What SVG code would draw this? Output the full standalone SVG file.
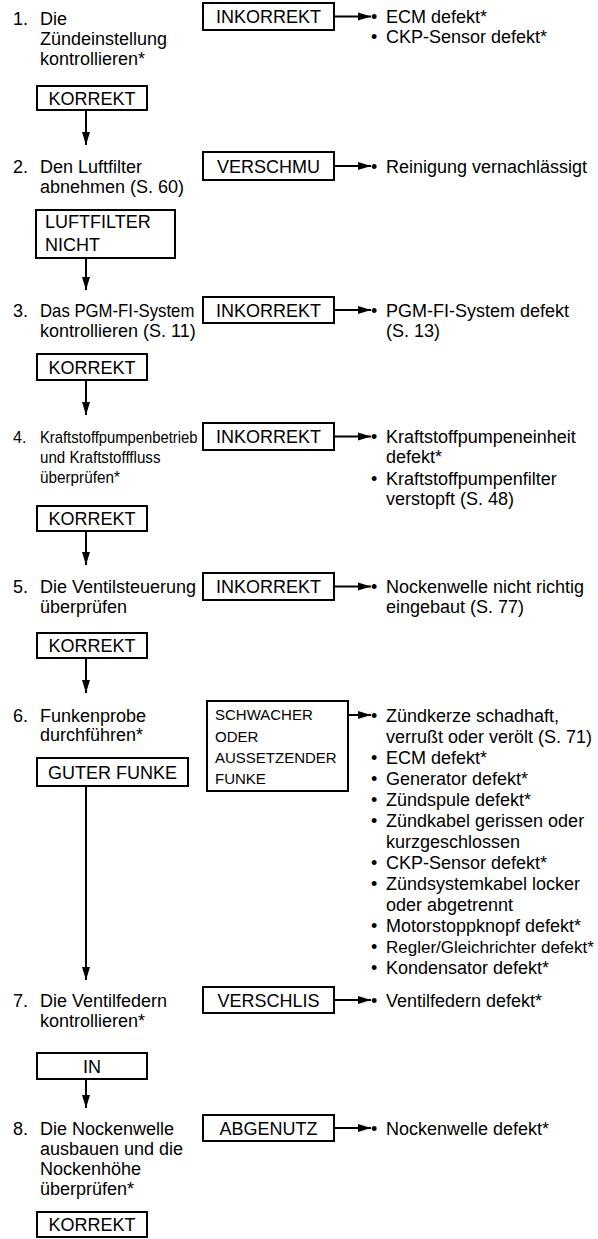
<svg xmlns="http://www.w3.org/2000/svg" width="598" height="1239" viewBox="0 0 598 1239">
<style>
.t{font-family:"Liberation Sans",Arial,Helvetica,sans-serif;font-size:18px;fill:#000}
.s{font-size:15px}
.k{font-size:17px}
.c{text-anchor:middle}
.box{fill:#fff;stroke:#000;stroke-width:2}
.ln{stroke:#000;stroke-width:2;fill:none;marker-end:url(#ah)}
</style>
<defs>
<marker id="ah" markerUnits="userSpaceOnUse" markerWidth="14" markerHeight="9" refX="13" refY="4.5" orient="auto" viewBox="0 0 14 9"><path d="M0,0.5 L13,4.5 L0,8.5 z" fill="#000"/></marker>
</defs>
<rect width="598" height="1239" fill="#fff"/>

<g id="connectors">
<line class="ln" x1="86" y1="110" x2="86" y2="145"/>
<line class="ln" x1="86" y1="258" x2="86" y2="290"/>
<line class="ln" x1="86" y1="380" x2="86" y2="415"/>
<line class="ln" x1="86" y1="531" x2="86" y2="565"/>
<line class="ln" x1="86" y1="658" x2="86" y2="693"/>
<line class="ln" x1="86" y1="786" x2="86" y2="980"/>
<line class="ln" x1="86" y1="1079" x2="86" y2="1108"/>
<line class="ln" x1="334" y1="16.5" x2="371" y2="16.5"/>
<line class="ln" x1="334" y1="166" x2="371" y2="166"/>
<line class="ln" x1="334" y1="310" x2="371" y2="310"/>
<line class="ln" x1="334" y1="436.5" x2="371" y2="436.5"/>
<line class="ln" x1="334" y1="586.5" x2="371" y2="586.5"/>
<line class="ln" x1="348" y1="715" x2="371" y2="715"/>
<line class="ln" x1="334" y1="1000" x2="371" y2="1000"/>
<line class="ln" x1="334" y1="1128" x2="371" y2="1128"/>
</g>

<g id="step1">
<text class="t" x="13" y="25">1.</text>
<text class="t" x="40" y="25">Die</text>
<text class="t" x="40" y="45">Zündeinstellung</text>
<text class="t" x="40" y="65">kontrollieren*</text>
</g>
<g id="inkorrekt1"><rect class="box" x="203" y="3" width="131" height="27"/><text class="t c" x="268.5" y="23">INKORREKT</text></g>
<g id="result1">
<text class="t" x="371" y="23">•</text><text class="t" x="386" y="23">ECM defekt*</text>
<text class="t" x="371" y="43">•</text><text class="t" x="386" y="43">CKP-Sensor defekt*</text>
</g>
<g id="korrekt1"><rect class="box" x="37" y="86" width="110" height="24"/><text class="t c" x="92" y="104.5">KORREKT</text></g>

<g id="step2">
<text class="t" x="13" y="173">2.</text>
<text class="t" x="40" y="173">Den Luftfilter</text>
<text class="t" x="40" y="193">abnehmen (S. 60)</text>
</g>
<g id="verschmu"><rect class="box" x="203" y="152" width="131" height="28"/><text class="t c" x="268.5" y="172.5">VERSCHMU</text></g>
<g id="result2"><text class="t" x="371" y="173">•</text><text class="t" x="386" y="173">Reinigung vernachlässigt</text></g>
<g id="luftfilter"><rect class="box" x="36" y="210" width="139" height="48"/><text class="t" x="45" y="228">LUFTFILTER</text><text class="t" x="45" y="251">NICHT</text></g>

<g id="step3">
<text class="t" x="13" y="317">3.</text>
<text class="t" transform="translate(40,317) scale(0.93,1)">Das PGM-FI-System</text>
<text class="t" x="40" y="337">kontrollieren (S. 11)</text>
</g>
<g id="inkorrekt3"><rect class="box" x="203" y="297" width="131" height="26"/><text class="t c" x="268.5" y="316.5">INKORREKT</text></g>
<g id="result3"><text class="t" x="371" y="317">•</text><text class="t" x="386" y="317">PGM-FI-System defekt</text><text class="t" x="386" y="337">(S. 13)</text></g>
<g id="korrekt3"><rect class="box" x="37" y="354" width="110" height="26"/><text class="t c" x="92" y="373.5">KORREKT</text></g>

<g id="step4">
<text class="t" x="13" y="443" style="font-size:16px">4.</text>
<text class="t k" transform="translate(40,443) scale(0.87,1)">Kraftstoffpumpenbetrieb</text>
<text class="t k" transform="translate(40,463) scale(0.89,1)">und Kraftstofffluss</text>
<text class="t k" transform="translate(40,483) scale(0.9,1)">überprüfen*</text>
</g>
<g id="inkorrekt4"><rect class="box" x="203" y="423" width="131" height="27"/><text class="t c" x="268.5" y="443">INKORREKT</text></g>
<g id="result4">
<text class="t" x="371" y="443">•</text><text class="t" x="386" y="443">Kraftstoffpumpeneinheit</text>
<text class="t" x="386" y="463">defekt*</text>
<text class="t" x="371" y="485">•</text><text class="t" x="386" y="485">Kraftstoffpumpenfilter</text>
<text class="t" x="386" y="505">verstopft (S. 48)</text>
</g>
<g id="korrekt4"><rect class="box" x="37" y="506" width="110" height="25"/><text class="t c" x="92" y="525">KORREKT</text></g>

<g id="step5">
<text class="t" x="13" y="593">5.</text>
<text class="t" x="40" y="593">Die Ventilsteuerung</text>
<text class="t" x="40" y="613">überprüfen</text>
</g>
<g id="inkorrekt5"><rect class="box" x="203" y="573" width="131" height="27"/><text class="t c" x="268.5" y="593">INKORREKT</text></g>
<g id="result5"><text class="t" x="371" y="593">•</text><text class="t" x="386" y="593">Nockenwelle nicht richtig</text><text class="t" x="386" y="613">eingebaut (S. 77)</text></g>
<g id="korrekt5"><rect class="box" x="37" y="633" width="110" height="25"/><text class="t c" x="92" y="652">KORREKT</text></g>

<g id="step6">
<text class="t" x="13" y="722">6.</text>
<text class="t" x="40" y="722">Funkenprobe</text>
<text class="t" x="40" y="741">durchführen*</text>
</g>
<g id="schwacher"><rect class="box" x="207" y="701" width="141" height="90"/>
<text class="t s" x="215" y="720">SCHWACHER</text>
<text class="t s" x="215" y="741.5">ODER</text>
<text class="t s" x="215" y="763">AUSSETZENDER</text>
<text class="t s" x="215" y="784">FUNKE</text>
</g>
<g id="result6">
<text class="t" x="371" y="722">•</text><text class="t" x="386" y="722">Zündkerze schadhaft,</text>
<text class="t" x="386" y="743">verrußt oder verölt (S. 71)</text>
<text class="t" x="371" y="764">•</text><text class="t" x="386" y="764">ECM defekt*</text>
<text class="t" x="371" y="785">•</text><text class="t" x="386" y="785">Generator defekt*</text>
<text class="t" x="371" y="806">•</text><text class="t" x="386" y="806">Zündspule defekt*</text>
<text class="t" x="371" y="827">•</text><text class="t" x="386" y="827">Zündkabel gerissen oder</text>
<text class="t" x="386" y="848">kurzgeschlossen</text>
<text class="t" x="371" y="869">•</text><text class="t" x="386" y="869">CKP-Sensor defekt*</text>
<text class="t" x="371" y="890">•</text><text class="t" x="386" y="890">Zündsystemkabel locker</text>
<text class="t" x="386" y="911">oder abgetrennt</text>
<text class="t" x="371" y="932">•</text><text class="t" x="386" y="932">Motorstoppknopf defekt*</text>
<text class="t" x="371" y="953">•</text><text class="t k" x="386" y="953">Regler/Gleichrichter defekt*</text>
<text class="t" x="371" y="974">•</text><text class="t" x="386" y="974">Kondensator defekt*</text>
</g>
<g id="guterfunke"><rect class="box" x="37" y="758" width="151" height="28"/><text class="t c" x="112.5" y="778.5">GUTER FUNKE</text></g>

<g id="step7">
<text class="t" x="13" y="1007">7.</text>
<text class="t" x="40" y="1007">Die Ventilfedern</text>
<text class="t" x="40" y="1027">kontrollieren*</text>
</g>
<g id="verschlis"><rect class="box" x="203" y="987" width="131" height="26"/><text class="t c" x="268.5" y="1006.5">VERSCHLIS</text></g>
<g id="result7"><text class="t" x="371" y="1007">•</text><text class="t" x="386" y="1007">Ventilfedern defekt*</text></g>
<g id="in"><rect class="box" x="37" y="1053" width="110" height="26"/><text class="t c" x="92" y="1072.5">IN</text></g>

<g id="step8">
<text class="t" x="13" y="1135">8.</text>
<text class="t" x="40" y="1135">Die Nockenwelle</text>
<text class="t" x="40" y="1155">ausbauen und die</text>
<text class="t" x="40" y="1175">Nockenhöhe</text>
<text class="t" x="40" y="1195">überprüfen*</text>
</g>
<g id="abgenutz"><rect class="box" x="203" y="1115" width="131" height="26"/><text class="t c" x="268.5" y="1134.5">ABGENUTZ</text></g>
<g id="result8"><text class="t" x="371" y="1135">•</text><text class="t" x="386" y="1135">Nockenwelle defekt*</text></g>
<g id="korrekt8"><rect class="box" x="37" y="1212" width="110" height="25"/><text class="t c" x="92" y="1231">KORREKT</text></g>
</svg>
